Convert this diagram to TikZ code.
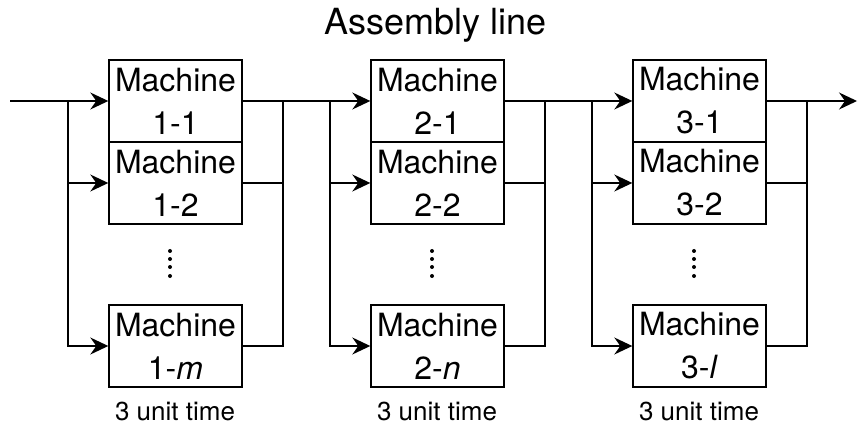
\documentclass[tikz,border=0pt]{standalone}
\usepackage{fontspec}
\setmainfont{TeX Gyre Heros}
\usetikzlibrary{arrows.meta}
\begin{document}
\begin{tikzpicture}[x=1pt,y=-1pt,
  machine/.style={draw, line width=1.4pt, minimum width=133pt, minimum height=82pt,
    inner sep=0pt, align=center, font=\fontsize{32}{43}\selectfont},
  wire/.style={line width=1.4pt},
  feed/.style={wire, -{Stealth[length=18pt,width=17pt,inset=6pt]}},
  caption/.style={font=\fontsize{26}{30}\selectfont, inner sep=0pt, anchor=base},
  heading/.style={font=\fontsize{36}{40}\selectfont, inner sep=0pt, anchor=base}]
\useasboundingbox (0,0) rectangle (858,427);

\node[heading] (title) at (435.5,35) {Assembly line};

% three parallel stages
\foreach \s/\dx/\last in {1/0/m, 2/262/n, 3/524/l}{
  \node[machine] (m\s a) at ({175.5+\dx},101) {Machine\\\s-1};
  \node[machine] (m\s b) at ({175.5+\dx},183) {Machine\\\s-2};
  \node[machine] (m\s c) at ({175.5+\dx},346) {Machine\\{\upshape\s}-\textit{\last}};
  \foreach \yy in {251,259,267,276}
    \fill ({170+\dx},\yy) circle (2pt);
  \node[caption] (t\s) at ({175+\dx},420) {3 unit time};
  % split and merge points
  \coordinate (s\s) at ({68+\dx},101);
  \coordinate (j\s) at ({283+\dx},101);
  \draw[feed] (s\s) |- (m\s b.west);
  \draw[feed] (s\s) |- (m\s c.west);
  \draw[wire] (m\s a.east) -- (j\s);
  \draw[wire] (m\s b.east) -| (j\s);
  \draw[wire] (m\s c.east) -| (j\s);
}

% flow between stages
\coordinate (in) at (10,101);
\coordinate (out) at (857,101);
\draw[feed] (in) -- (m1a.west);
\draw[feed] (j1) -- (m2a.west);
\draw[feed] (j2) -- (m3a.west);
\draw[feed] (j3) -- (out);
\end{tikzpicture}
\end{document}
